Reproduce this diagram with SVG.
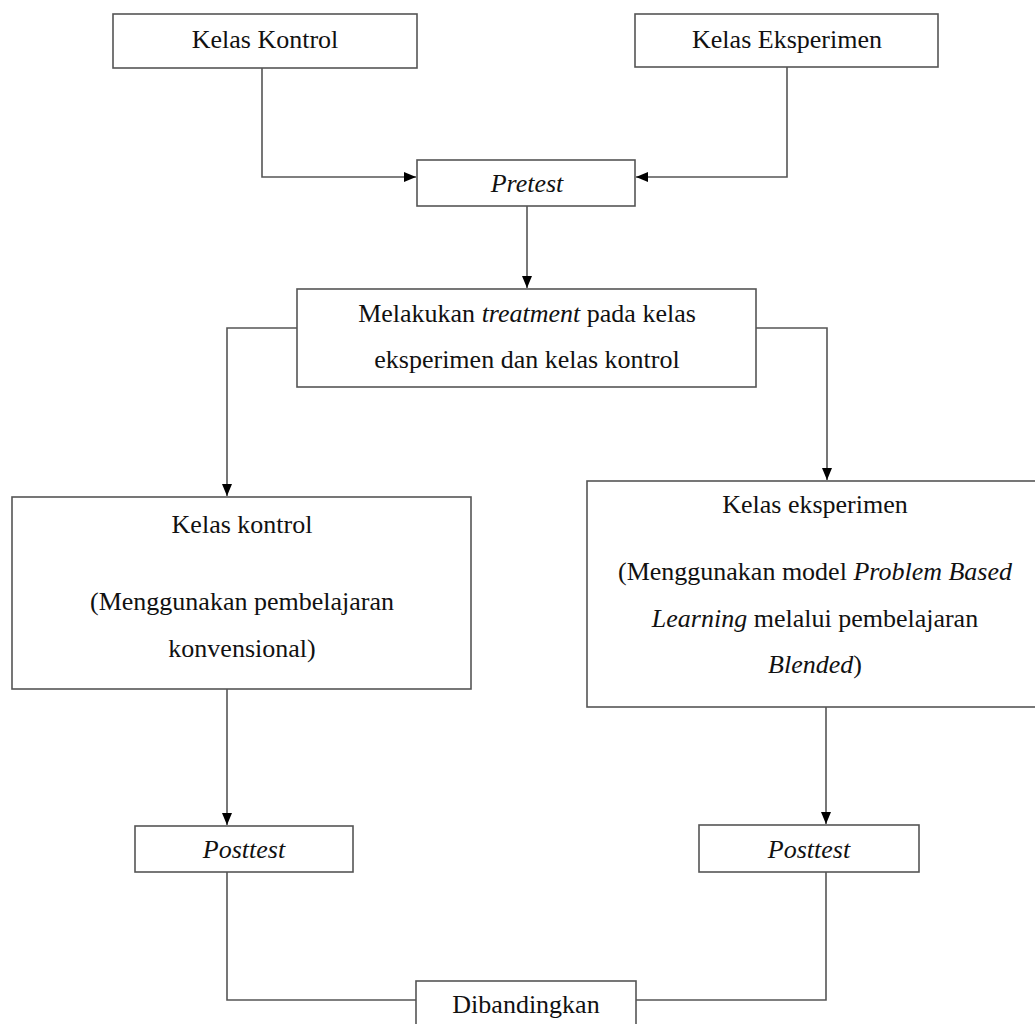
<svg xmlns="http://www.w3.org/2000/svg" width="1035" height="1024" viewBox="0 0 1035 1024">
<style>
.box{fill:#fff;stroke:#555;stroke-width:1.6}
.t{font-family:"Liberation Serif","Times New Roman",serif;font-size:26px;fill:#111;text-anchor:middle}
.i{font-style:italic}
.c{fill:none;stroke:#555;stroke-width:1.6}
</style>
<defs>
<marker id="ah" markerUnits="userSpaceOnUse" markerWidth="12" markerHeight="12" viewBox="0 0 12 12" refX="12" refY="6" orient="auto">
<path d="M0,1 L12,6 L0,11 z" fill="#000"/>
</marker>
</defs>
<rect width="1035" height="1024" fill="#fff"/>
<g id="connectors">
<path class="c" d="M262,68 V177 H416" marker-end="url(#ah)"/>
<path class="c" d="M787,67 V177 H636" marker-end="url(#ah)"/>
<path class="c" d="M527,206 V288" marker-end="url(#ah)"/>
<path class="c" d="M297,328 H227 V496" marker-end="url(#ah)"/>
<path class="c" d="M756,328 H827 V480" marker-end="url(#ah)"/>
<path class="c" d="M227,689 V825" marker-end="url(#ah)"/>
<path class="c" d="M826,707 V824" marker-end="url(#ah)"/>
<path class="c" d="M227,872 V1000 H416"/>
<path class="c" d="M826,872 V1000 H636"/>
</g>
<g id="kelas-kontrol">
<rect class="box" x="113" y="14" width="304" height="54"/>
<text class="t" x="265" y="48">Kelas Kontrol</text>
</g>
<g id="kelas-eksperimen">
<rect class="box" x="635" y="14" width="303" height="53"/>
<text class="t" x="787" y="48">Kelas Eksperimen</text>
</g>
<g id="pretest">
<rect class="box" x="417" y="160" width="218" height="46"/>
<text class="t i" x="527" y="192">Pretest</text>
</g>
<g id="treatment">
<rect class="box" x="297" y="289" width="459" height="98"/>
<text class="t" x="527" y="322">Melakukan <tspan class="i">treatment</tspan> pada kelas</text>
<text class="t" x="527" y="368">eksperimen dan kelas kontrol</text>
</g>
<g id="kelas-kontrol-treatment">
<rect class="box" x="12" y="497" width="459" height="192"/>
<text class="t" x="242" y="533">Kelas kontrol</text>
<text class="t" x="242" y="610">(Menggunakan pembelajaran</text>
<text class="t" x="242" y="657">konvensional)</text>
</g>
<g id="kelas-eksperimen-treatment">
<rect class="box" x="587" y="481" width="456" height="226"/>
<text class="t" x="815" y="513">Kelas eksperimen</text>
<text class="t" x="815" y="580">(Menggunakan model <tspan class="i">Problem Based</tspan></text>
<text class="t" x="815" y="627"><tspan class="i">Learning</tspan> melalui pembelajaran</text>
<text class="t" x="815" y="673"><tspan class="i">Blended</tspan>)</text>
</g>
<g id="posttest-kontrol">
<rect class="box" x="135" y="826" width="218" height="46"/>
<text class="t i" x="244" y="858">Posttest</text>
</g>
<g id="posttest-eksperimen">
<rect class="box" x="699" y="825" width="220" height="47"/>
<text class="t i" x="809" y="858">Posttest</text>
</g>
<g id="dibandingkan">
<rect class="box" x="416" y="981" width="220" height="50"/>
<text class="t" x="526" y="1013">Dibandingkan</text>
</g>
</svg>
